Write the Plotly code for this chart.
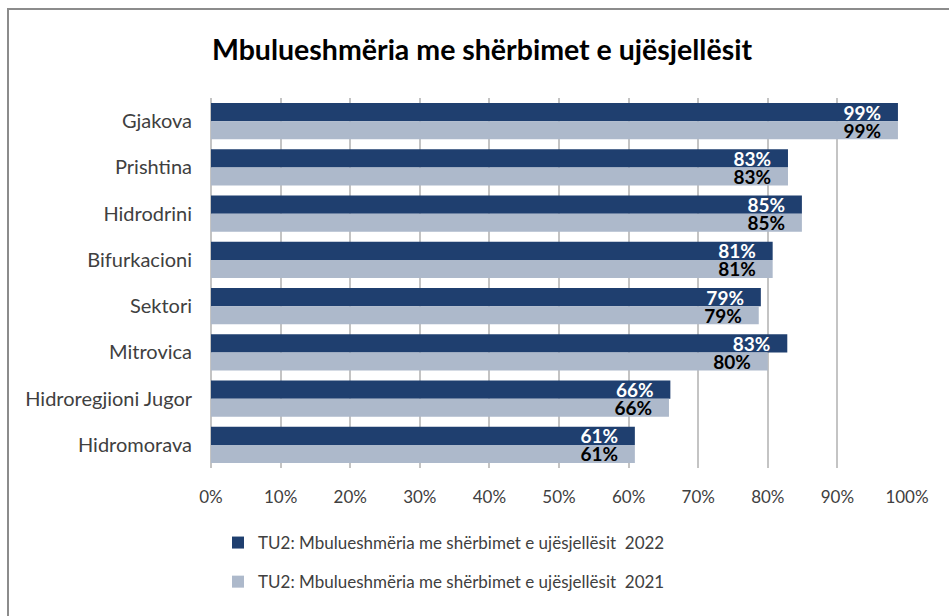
import plotly.graph_objects as go

categories = ["Gjakova", "Prishtina", "Hidrodrini", "Bifurkacioni", "Sektori",
              "Mitrovica", "Hidroregjioni Jugor", "Hidromorava"]
values_2022 = [98.7, 82.9, 84.9, 80.7, 79.0, 82.8, 66.0, 60.9]
values_2021 = [98.7, 82.9, 84.9, 80.7, 78.7, 80.0, 65.8, 60.9]
series_names = ["TU2: Mbulueshmëria me shërbimet e ujësjellësit\u00a0 2022",
                "TU2: Mbulueshmëria me shërbimet e ujësjellësit\u00a0 2021"]
x_ticks = list(range(0, 101, 10))
x_ticklabels = [f"{t}%" for t in x_ticks]
title_text = "Mbulueshmëria me shërbimet e ujësjellësit"

W, H = 949, 616
L, R, T, B = 211, 42, 98, 148
pw, ph = W - L - R, H - T - B

PAD = "\u00a0\u00a0\u00a0"

fig = go.Figure()
fig.add_trace(go.Bar(
    y=categories, x=values_2022, orientation="h", name=series_names[0],
    marker=dict(color="#1F3F6F", line=dict(width=0)),
    text=[f"{round(v)}%{PAD}" for v in values_2022], textposition="inside",
    insidetextanchor="end", constraintext="none", textangle=0,
    textfont=dict(family="Lato", size=19, color="white", weight="bold"),
    legendgroup="a"))
fig.add_trace(go.Bar(
    y=categories, x=values_2021, orientation="h", name=series_names[1],
    marker=dict(color="#ADB9CB", line=dict(width=0)),
    text=[f"{round(v)}%{PAD}" for v in values_2021], textposition="inside",
    insidetextanchor="end", constraintext="none", textangle=0,
    textfont=dict(family="Lato", size=19, color="black", weight="bold"),
    legendgroup="b"))

def px_x(p):
    return (p - L) / pw

def px_y(p):
    return (H - B - p) / ph

fig.add_shape(type="rect", xref="paper", yref="paper",
              x0=px_x(8), x1=px_x(990), y0=px_y(9), y1=px_y(660),
              line=dict(color="#8C8C8C", width=2), fillcolor="rgba(0,0,0,0)", layer="below")

fig.update_layout(
    width=W, height=H,
    margin=dict(l=L, r=R, t=T, b=B, autoexpand=False),
    paper_bgcolor="white", plot_bgcolor="white",
    barmode="group", bargap=0.22, bargroupgap=0,
    font=dict(family="Lato", size=15, color="#404040"),
    title=dict(text=title_text, x=482 / W, xanchor="center", xref="container",
               y=1 - 50 / H, yanchor="middle", yref="container",
               font=dict(family="Lato", size=28.5, color="black", weight="bold"),
               automargin=False),
    xaxis=dict(range=[0, 100], tickvals=x_ticks, ticktext=x_ticklabels,
               showgrid=True, gridcolor="#C4C4C4", gridwidth=2,
               zeroline=True, zerolinecolor="#C4C4C4", zerolinewidth=2,
               showline=False, ticks="", ticklabelstandoff=17, tickangle=0,
               automargin=False,
               tickfont=dict(family="Lato", size=17, color="#404040"), fixedrange=True),
    yaxis=dict(autorange="reversed", showgrid=False, showline=False, ticks="",
               ticklabelstandoff=18, automargin=False,
               tickfont=dict(family="Lato", size=20, color="#404040")),
    legend=dict(orientation="v", xref="container", yref="container",
                x=218 / W, xanchor="left", y=1 - 525 / H, yanchor="top",
                tracegroupgap=14, traceorder="grouped",
                font=dict(family="Lato", size=17, color="#404040"),
                bgcolor="rgba(0,0,0,0)"),
    showlegend=True,
)

fig.write_html("out.html")
